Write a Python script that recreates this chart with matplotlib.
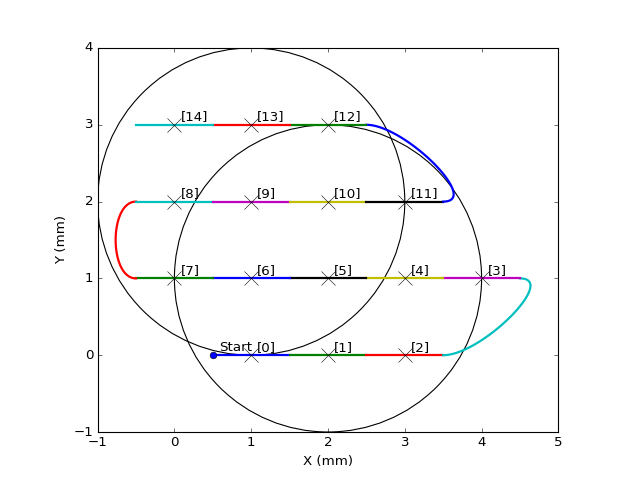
import matplotlib
matplotlib.use("Agg")
import matplotlib.pyplot as plt
import numpy as np

plt.style.use("classic")

# tool path waypoints (mm); a curve joins point i to i+1 where CURVED[i] is True
PATH_X = [0.5, 1.5, 2.5, 3.5, 4.5, 3.5, 2.5, 1.5, 0.5, -0.5, -0.5, 0.5, 1.5, 2.5, 3.5, 2.5, 1.5, 0.5, -0.5]
PATH_Y = [0, 0, 0, 0, 1, 1, 1, 1, 1, 1, 2, 2, 2, 2, 2, 3, 3, 3, 3]
CURVED = [False, False, False, True, False, False, False, False, False, True,
          False, False, False, False, True, False, False, False]

# spot positions
SPOT_X = [1, 2, 3, 4, 3, 2, 1, 0, 0, 1, 2, 3, 2, 1, 0]
SPOT_Y = [0, 0, 0, 1, 1, 1, 1, 1, 2, 2, 2, 2, 3, 3, 3]

CIRCLE_CENTERS = [(1, 2), (2, 1)]
CIRCLE_RADIUS = 2.0

COLORS = ["b", "g", "r", "c", "m", "y", "k"]


def bezier(p0, p3, d_in, d_out, n=60):
    L = np.hypot(*(p3 - p0)) / (2 * np.sqrt(2))
    p1 = p0 + L * d_in
    p2 = p3 - L * d_out
    t = np.linspace(0, 1, n)[:, None]
    return ((1 - t) ** 3 * p0 + 3 * (1 - t) ** 2 * t * p1
            + 3 * (1 - t) * t ** 2 * p2 + t ** 3 * p3)


pts = np.column_stack([PATH_X, PATH_Y]).astype(float)

fig = plt.figure(figsize=(8, 6), dpi=80)
ax = fig.add_subplot(111)

for c in CIRCLE_CENTERS:
    ax.add_patch(plt.Circle(c, CIRCLE_RADIUS, fill=False, ec="k", lw=1))

for i in range(len(pts) - 1):
    color = COLORS[i % len(COLORS)]
    if CURVED[i]:
        d_in = pts[i] - pts[i - 1]
        d_out = pts[i + 2] - pts[i + 1]
        seg = bezier(pts[i], pts[i + 1], d_in / np.linalg.norm(d_in), d_out / np.linalg.norm(d_out))
    else:
        seg = pts[i:i + 2]
    ax.plot(seg[:, 0], seg[:, 1], color=color, lw=2)

ax.plot(SPOT_X, SPOT_Y, "kx", markersize=12, mew=0.5)
for k, (x, y) in enumerate(zip(SPOT_X, SPOT_Y)):
    ax.text(x + 0.08, y + 0.06, "[%d]" % k)

ax.plot(PATH_X[0], PATH_Y[0], "bo", markersize=6)
ax.text(PATH_X[0] + 0.08, PATH_Y[0] + 0.06, "Start")

ax.set_xlim(-1, 5)
ax.set_ylim(-1, 4)
ax.set_aspect("equal")
ax.set_xlabel("X (mm)")
ax.set_ylabel("Y (mm)")

fig.savefig("out.png", dpi=80)
